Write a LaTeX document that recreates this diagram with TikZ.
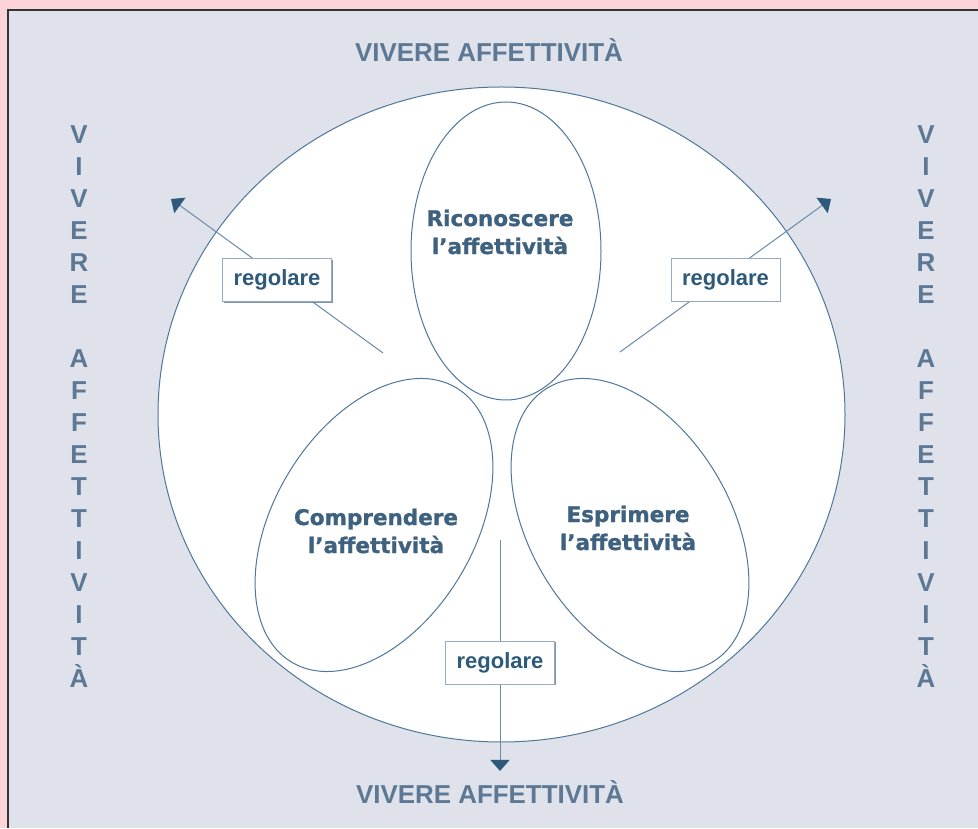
\documentclass[tikz,border=0pt]{standalone}
\usepackage{fontspec}
\setmainfont{Liberation Sans}
\newfontfamily\heavyfont[BoldFeatures={FakeBold=1.2}]{DejaVu Sans}
\usepackage{tikz}
\usetikzlibrary{arrows.meta,shapes.geometric,shadows}
\definecolor{frame}{HTML}{FCD3D8}
\definecolor{panel}{HTML}{DFE2EA}
\definecolor{ink}{HTML}{5C7894}
\definecolor{deepink}{HTML}{3F6180}
\definecolor{rim}{HTML}{4F7799}
\definecolor{tipblue}{HTML}{2D5A7A}
\tikzset{
  petal/.style={draw=rim, line width=1pt, ellipse, inner sep=0pt},
  petaltext/.style={font=\heavyfont\bfseries\fontsize{21.5}{28}\selectfont, text=deepink, align=center},
  tag/.style={draw=rim!60, fill=white, line width=0.8pt, inner sep=0pt,
    minimum width=109pt, minimum height=43pt, text=tipblue,
    font=\bfseries\fontsize{22}{26}\selectfont,
    drop shadow={shadow xshift=1.3pt, shadow yshift=-1.3pt, fill=rim!70!gray, opacity=0.8}},
  arr/.style={-{Triangle[length=11pt, width=19pt, color=tipblue]}, draw=rim!85, line width=1pt},
  head/.style={font=\bfseries\fontsize{25.9}{30}\selectfont, text=ink, anchor=base}}

\begin{document}
\begin{tikzpicture}[x=1pt, y=1pt]
  \useasboundingbox (0,0) rectangle (978,828);
  % page and panel
  \fill[frame] (0,0) rectangle (978,828);
  \fill[panel] (8,0) rectangle (978,818);
  \draw[black!80, line width=1.5pt] (8,0) -- (8,818) -- (978,818);

  \node[head] (top) at (489,766) {VIVERE AFFETTIVITÀ};
  \node[head] (bottom) at (490,24) {VIVERE AFFETTIVITÀ};
  \foreach \ch [count=\i] in {V,I,V,E,R,E,{},A,F,F,E,T,T,I,V,I,T,À} {
    \node[head] (lv\i) at (79,716-32*\i) {\ch};
    \node[head] (rv\i) at (926,716-32*\i) {\ch};
  }

  % circle and the three petals
  \node[ellipse, draw=rim, fill=white, line width=1pt, inner sep=0pt,
    minimum width=687pt, minimum height=655pt] (world) at (501.5,413.5) {};
  \node[petal, minimum width=190pt, minimum height=298pt] (know) at (506,577) {};
  \node[petal, minimum width=200pt, minimum height=320pt, rotate=-31] (grasp) at (374,303) {};
  \node[petal, minimum width=200pt, minimum height=320pt, rotate=31] (show) at (630,303) {};
  \node[petaltext] (knowtxt) at (500,596) {Riconoscere\\l’affettività};
  \node[petaltext] (grasptxt) at (376,297) {Comprendere\\l’affettività};
  \node[petaltext] (showtxt) at (628,300) {Esprimere\\l’affettività};

  % regolare arrows
  \coordinate (lfoot) at (383,475);
  \coordinate (lhead) at (171,629);
  \coordinate (rfoot) at (620,476);
  \coordinate (rhead) at (831,629);
  \coordinate (bfoot) at (500,288);
  \coordinate (bhead) at (500,57);
  \draw[arr] (lfoot) -- node[tag, yshift=-4pt] (ltag) {regolare} (lhead);
  \draw[arr] (rfoot) -- node[tag, yshift=-4pt] (rtag) {regolare} (rhead);
  \draw[arr] (bfoot) -- node[tag, pos=0.53] (btag) {regolare} (bhead);
\end{tikzpicture}
\end{document}
